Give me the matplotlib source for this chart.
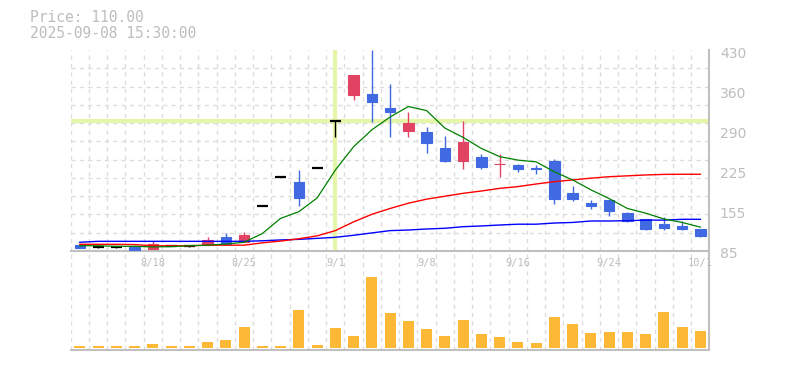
import matplotlib
matplotlib.use("Agg")
import matplotlib.pyplot as plt
import matplotlib.transforms as mtransforms
import numpy as np

# ---------------- data ----------------
dates = ["8/12", "8/13", "8/14", "8/15", "8/18", "8/19", "8/20", "8/21", "8/22",
         "8/25", "8/26", "8/27", "8/28", "8/29", "9/1", "9/2", "9/3", "9/4", "9/5",
         "9/8", "9/9", "9/10", "9/11", "9/12", "9/16", "9/17", "9/18", "9/19",
         "9/22", "9/24", "9/25", "9/26", "9/29", "9/30", "10/1"]
opens = [95.3, 92, 92, 91.3, 89, 94, 93, 95, 109, 101, 162, 212, 203, 227.5, 308,
         353, 354.5, 330, 291.5, 289, 261.8, 240, 247, 233.5, 232.6, 228, 239.5,
         184.5, 168, 172.5, 150, 140, 131, 128, 122.8]
highs = [95.3, 92.5, 93, 91.3, 101.6, 96, 94, 109, 116, 117.6, 162, 212, 224, 227.5, 308,
         387, 430, 371.6, 323.6, 297, 282, 308, 251, 251, 234, 232, 243,
         196.6, 172.5, 172.5, 152, 140, 143, 136.5, 122.8]
lows = [90.7, 90.5, 91, 86, 89, 93, 92, 95, 96, 101, 162, 212, 161.7, 227.5, 281,
        344, 307, 281, 281, 253.7, 238, 226, 226, 212.5, 221, 218, 165.7,
        171, 157, 145.6, 134.8, 121, 121, 121, 109]
closes = [90.7, 92, 92, 87.2, 97, 94, 93, 104, 97, 112.5, 162, 212, 176.5, 227.5, 308,
          387, 341, 324, 304.7, 271, 240, 272, 229.7, 234, 226, 225, 175,
          175, 163, 153.6, 136.5, 122.8, 124.5, 122.8, 110]
ma_short = [94, 94, 93, 93, 92, 92.5, 94, 95, 97, 100, 115, 141, 152.5, 176, 224,
            264, 293, 315, 333, 326, 296, 280, 261, 247, 241, 238, 221, 207,
            190, 175, 158, 150, 140, 134, 126]
ma_mid = [96.5, 96.5, 96.5, 96, 94, 94, 94, 95, 95, 95, 99, 102, 106, 111, 120,
          135, 148, 158, 167, 174, 179, 184, 188, 192.5, 195.5, 200, 204, 207,
          210, 212.5, 214, 215.5, 216.5, 216.7, 216.7]
ma_long = [100, 101.6, 101.6, 101.6, 101.6, 101.6, 101.6, 101.6, 101.6, 101.6, 102.5,
           104, 105, 106.7, 108.5, 112, 116, 120, 121, 122.8, 124, 126.7, 128, 129.6,
           131, 131, 133, 134, 136.5, 136.5, 137, 138, 138, 139.4, 139.4]
volumes = [600, 600, 600, 600, 1200, 600, 600, 1800, 2400, 6300, 600, 600, 11400, 900,
           6000, 3600, 21400, 10500, 8100, 5700, 3600, 8400, 4200, 3300, 1800, 1500,
           9300, 7200, 4500, 4800, 4800, 4200, 10800, 6300, 5100]
date_label_idx = [4, 9, 14, 19, 24, 29, 34]
price_ticks = [85, 155, 225, 290, 360, 430]
price_min, price_max = 85, 430
cross_idx = 14
cross_price = 308
title_lines = ["Price: 110.00", "2025-09-08 15:30:00"]

# ---------------- style ----------------
W, H = 785, 370
UP = "#E04462"
DOWN = "#4169E1"
DOJI = "#000000"
GRID = "#dcdcdc"
SPINE = "#c0c0c0"
TXT = "#bdbdbd"
CROSS = "#E6F6A8"
VOL = "#FDB835"

fig = plt.figure(figsize=(W / 100, H / 100), dpi=100)
left, right = 70.7, 709.5
ax = fig.add_axes([left / W, (H - 251) / H, (right - left) / W, 201 / H])
axv = fig.add_axes([left / W, (H - 350) / H, (right - left) / W, 97 / H])

n = len(dates)
x = np.arange(n)
o = np.array(opens); h = np.array(highs); l = np.array(lows); c = np.array(closes)

for a in (ax, axv):
    a.set_xlim(-0.5, n - 0.5)
    a.set_facecolor("white")
    for s in ("top", "left"):
        a.spines[s].set_visible(False)
    for s in ("right", "bottom"):
        a.spines[s].set_color(SPINE)
        a.spines[s].set_linewidth(1.5)
    a.set_xticks(np.arange(n + 1) - 0.5, minor=True)
    a.grid(True, which="minor", axis="x", color=GRID, linestyle=(0, (3, 3)), linewidth=1.0)
    a.tick_params(which="both", length=0)
    a.set_axisbelow(True)

# price axis
ax.set_ylim(price_min, price_max)
ax.set_yticks(np.linspace(price_min, price_max, len(price_ticks)))
ax.set_yticklabels([str(t) for t in price_ticks])
ax.set_yticks(np.linspace(price_min, price_max, 12), minor=True)
ax.grid(True, which="minor", axis="y", color=GRID, linestyle=(0, (3, 3)), linewidth=1.0)
ax.yaxis.tick_right()
ax.tick_params(axis="y", which="major", labelsize=10, labelcolor=TXT, pad=7.5)
for lab in ax.get_yticklabels():
    lab.set_fontfamily("DejaVu Sans")
    lab.set_transform(lab.get_transform() + mtransforms.ScaledTranslation(0, -2 / 100, fig.dpi_scale_trans))
ax.set_xticks(date_label_idx)
ax.set_xticklabels([dates[i] for i in date_label_idx])
ax.tick_params(axis="x", which="major", labelsize=7.5, labelcolor=TXT, pad=5)
for lab in ax.get_xticklabels():
    lab.set_fontfamily("DejaVu Sans Mono")
    lab.set_zorder(10)

# crosshair
ax.axvline(cross_idx, color=CROSS, linewidth=3, zorder=1)
ax.axhline(cross_price, color=CROSS, linewidth=3, zorder=1)

# candles
up = c > o
down = c < o
doji = c == o
colors = np.where(up, UP, np.where(down, DOWN, DOJI))
ax.vlines(x, l, h, colors=colors, linewidth=1.0, zorder=2)
body_bottom = np.minimum(o, c)
body_h = np.abs(c - o)
nd = ~doji
ax.bar(x[nd], body_h[nd], bottom=body_bottom[nd], width=0.58, color=colors[nd],
       edgecolor=colors[nd], linewidth=0.8, zorder=3)
ax.hlines(c[doji], x[doji] - 0.3, x[doji] + 0.3, colors=DOJI, linewidth=1.6, zorder=3)

# moving averages
ax.plot(x, ma_long, color="#0000ff", linewidth=1.0, zorder=4)
ax.plot(x, ma_mid, color="#ff0000", linewidth=1.0, zorder=4)
ax.plot(x, ma_short, color="#008000", linewidth=0.9, zorder=5)

# volume
axv.bar(x, volumes, width=0.6, color=VOL, linewidth=0, zorder=2)
vmax = max(volumes)
px_per = 71 / vmax
low_lim = -2 / px_per
axv.set_ylim(low_lim, low_lim + 97 / px_per)
axv.set_yticks([])
axv.set_xticks([])
axv.patch.set_alpha(0)
axv.set_zorder(0)
ax.set_zorder(1)
ax.patch.set_alpha(0)

# title
fig.text(30 / W, 1 - 18 / H, title_lines[0], fontsize=10.5, color=TXT,
         family="DejaVu Sans Mono", va="center", ha="left")
fig.text(30 / W, 1 - 33 / H, title_lines[1], fontsize=10.5, color=TXT,
         family="DejaVu Sans Mono", va="center", ha="left")

fig.savefig("out.png", dpi=100, facecolor="white")
